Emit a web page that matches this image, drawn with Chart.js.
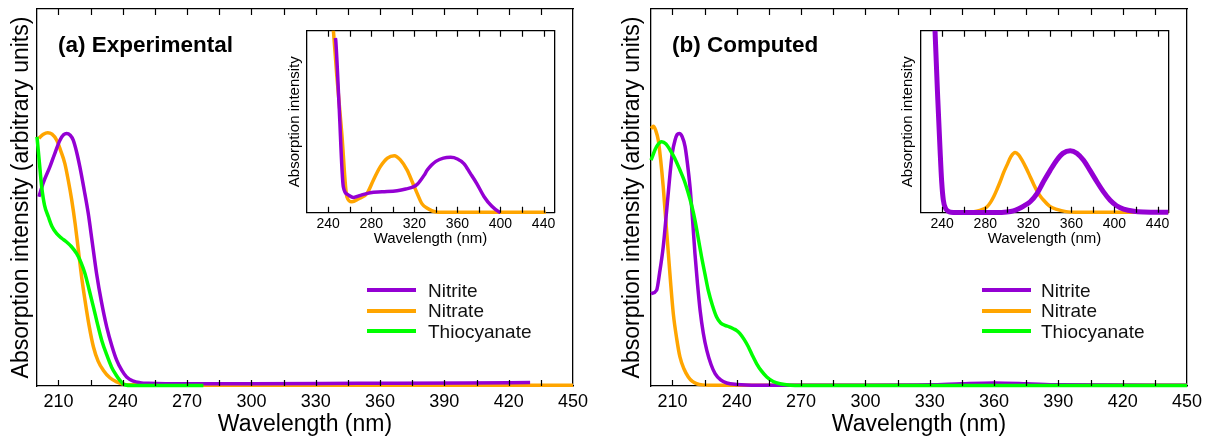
<!DOCTYPE html>
<html>
<head>
<meta charset="utf-8">
<script src="https://cdn.jsdelivr.net/npm/chart.js@4.4.1/dist/chart.umd.min.js"></script>
<style>
  html, body { margin: 0; padding: 0; background: #fff; }
  #wrap { position: relative; width: 1205px; height: 437px; background: #fff; overflow: hidden;
          font-family: 'Liberation Sans', Arial, sans-serif; }
  canvas { position: absolute; }
  .ptitle { position: absolute; font-weight: bold; font-size: 22.5px; line-height: 22.5px; white-space: nowrap; color: #000; }
  .lg { position: absolute; font-size: 19px; line-height: 19px; white-space: nowrap; color: #111; }
  .lgline { position: absolute; height: 4px; width: 49px; }
</style>
</head>
<body>
<div id="wrap">
  <canvas id="mainA" width="600" height="437" style="left:0;top:0"></canvas>
  <canvas id="mainB" width="605" height="437" style="left:600px;top:0"></canvas>
  <canvas id="insetA" width="280" height="230" style="left:280px;top:25px"></canvas>
  <canvas id="insetB" width="280" height="230" style="left:895px;top:25px"></canvas>
  <div class="ptitle" style="left:58px;top:34px">(a) Experimental</div>
  <div class="ptitle" style="left:672px;top:34px">(b) Computed</div>
  <div id="legA"></div>
  <div id="legB"></div>
</div>
<script>
// ---------------- DATA ----------------
const seriesNames = ['Nitrite', 'Nitrate', 'Thiocyanate'];
const seriesColors = ['#9400d3', '#ffa500', '#00ff00'];

// Panel (a) Experimental, main
const expNitriteX = [200.9, 203, 206, 208.5, 210.7, 212.5, 213.8, 215.5, 216.9, 218.5, 220, 222, 223.9, 225.8, 227.8, 230, 232.5, 235, 237.2, 239.5, 241.8, 245, 248, 252, 260, 300, 350, 400, 430];
const expNitriteY = [0.502, 0.54, 0.581, 0.62, 0.652, 0.667, 0.67, 0.665, 0.652, 0.62, 0.581, 0.52, 0.458, 0.38, 0.298, 0.225, 0.157, 0.105, 0.068, 0.042, 0.024, 0.013, 0.009, 0.007, 0.006, 0.006, 0.007, 0.008, 0.009];
const expNitrateX = [200.9, 203, 205, 207, 209.2, 211, 213, 214.6, 216.2, 217.8, 219.3, 220.8, 222.4, 224.3, 226.3, 228.5, 230.9, 234, 237.2, 240, 245, 260, 300, 350, 400, 450];
const expNitrateY = [0.657, 0.668, 0.672, 0.668, 0.652, 0.625, 0.59, 0.545, 0.493, 0.43, 0.36, 0.29, 0.227, 0.16, 0.104, 0.066, 0.042, 0.022, 0.011, 0.005, 0.003, 0.002, 0.002, 0.002, 0.002, 0.002];
const expThioX = [200, 201, 202.2, 203.5, 205.3, 207, 209.2, 211.5, 213.8, 216, 218.5, 220.5, 222.4, 224.3, 226.3, 228.2, 230.2, 232.5, 234.8, 236.8, 238.7, 240.5, 245, 260, 277.6];
const expThioY = [0.661, 0.6, 0.528, 0.48, 0.449, 0.423, 0.404, 0.392, 0.382, 0.37, 0.351, 0.328, 0.298, 0.256, 0.21, 0.165, 0.121, 0.083, 0.05, 0.03, 0.015, 0.004, 0.001, 0.001, 0.001];

// Panel (b) Computed, main
const compNitriteX = [200, 202.6, 204, 205.7, 207.3, 208.9, 210, 211.2, 212.2, 213.2, 214.5, 215.9, 217, 218.2, 219.4, 220.5, 221.7, 222.9, 224.4, 226, 228, 229.9, 232.5, 235.3, 240, 250, 300, 330, 345, 360, 375, 390, 450];
const compNitriteY = [0.245, 0.254, 0.3, 0.369, 0.465, 0.564, 0.62, 0.652, 0.667, 0.67, 0.662, 0.635, 0.59, 0.528, 0.44, 0.351, 0.27, 0.201, 0.14, 0.095, 0.057, 0.033, 0.016, 0.008, 0.004, 0.002, 0.002, 0.003, 0.006, 0.008, 0.006, 0.003, 0.002];
const compNitrateX = [200, 201.1, 202.2, 203.4, 204.5, 205.7, 206.9, 208.1, 209.2, 210.4, 212, 213.5, 215.4, 217.4, 219.3, 221.3, 224, 230, 260, 300, 360, 450];
const compNitrateY = [0.683, 0.689, 0.678, 0.652, 0.6, 0.528, 0.44, 0.351, 0.27, 0.192, 0.125, 0.077, 0.045, 0.024, 0.012, 0.006, 0.003, 0.002, 0.002, 0.002, 0.002, 0.002];
const compThioX = [200, 202.6, 205, 207, 208.9, 211, 213.5, 215.5, 217.4, 219, 220.5, 222, 223.6, 225.2, 226.7, 228.6, 230.6, 232.5, 234.5, 236.5, 238.4, 240, 241.5, 243.5, 245.4, 247.3, 249.3, 251.5, 254, 257, 260.2, 265, 270, 450];
const compThioY = [0.599, 0.635, 0.648, 0.642, 0.626, 0.605, 0.573, 0.545, 0.511, 0.478, 0.44, 0.393, 0.342, 0.296, 0.254, 0.215, 0.183, 0.167, 0.161, 0.157, 0.152, 0.147, 0.139, 0.123, 0.104, 0.081, 0.059, 0.04, 0.024, 0.012, 0.006, 0.002, 0.001, 0.001];

// Inset (a)
const insExpNitriteX = [246.6, 247, 250, 254, 258, 263.5, 270, 279, 290, 304, 312, 319.5, 323, 326, 329, 332, 336, 340, 347, 353.7, 360, 366, 372, 378, 384.8, 392, 398.8, 400];
const insExpNitriteY = [0.96, 0.945, 0.6, 0.143, 0.1, 0.084, 0.095, 0.11, 0.115, 0.121, 0.13, 0.143, 0.158, 0.18, 0.205, 0.234, 0.262, 0.282, 0.3, 0.304, 0.295, 0.27, 0.216, 0.16, 0.088, 0.035, 0.004, 0.002];
const insExpNitrateX = [243, 244.8, 248, 252.6, 257.3, 262, 268, 276, 282, 288.4, 295, 301.4, 307, 313.3, 318, 322.6, 327, 332, 340, 350, 400, 442];
const insExpNitrateY = [1.12, 1.0, 0.75, 0.436, 0.088, 0.06, 0.075, 0.106, 0.18, 0.253, 0.3, 0.313, 0.29, 0.234, 0.17, 0.106, 0.05, 0.024, 0.004, 0.002, 0.002, 0.002];

// Inset (b)
const insCompNitriteX = [232.5, 233.3, 235.9, 238, 239.5, 241, 243, 245.5, 248, 260, 290, 300, 306, 311, 316, 321.7, 328, 334, 340, 346.5, 352, 358.9, 365, 371.3, 377, 383.7, 390, 396, 402, 408.5, 418, 427, 450];
const insCompNitriteY = [1.15, 1.0, 0.62, 0.344, 0.17, 0.07, 0.025, 0.008, 0.003, 0.001, 0.001, 0.004, 0.01, 0.022, 0.038, 0.06, 0.105, 0.17, 0.23, 0.29, 0.326, 0.341, 0.327, 0.288, 0.235, 0.17, 0.113, 0.068, 0.038, 0.02, 0.008, 0.004, 0.002];
const insCompNitrateX = [262.8, 272, 278, 281.4, 285, 288, 291, 293.8, 297, 300, 304, 307.7, 311, 314, 318, 321.7, 325, 328, 331, 334, 340, 346.5, 355, 364, 450];
const insCompNitrateY = [0.002, 0.008, 0.02, 0.031, 0.058, 0.09, 0.13, 0.17, 0.22, 0.26, 0.31, 0.331, 0.318, 0.29, 0.245, 0.198, 0.155, 0.12, 0.092, 0.07, 0.035, 0.018, 0.006, 0.003, 0.002];

// Axis ranges / ticks
const mainXRange = [200, 450];
const mainXStep = 15;
const mainXLabelEvery = 30;
const insetXRange = [220, 450];
const insetXStep = 20;
const insetXLabelEvery = 40;

// ---------------- BUILD ----------------
Chart.defaults.font.family = "'Liberation Sans', Arial, Helvetica, sans-serif";
Chart.defaults.color = '#000';

const pts = (xs, ys) => xs.map((x, i) => ({x: x, y: ys[i]}));

function ds(label, xs, ys, color, width) {
  return {
    label, data: pts(xs, ys), borderColor: color, backgroundColor: color,
    borderWidth: width, pointRadius: 0, showLine: true, fill: false,
    cubicInterpolationMode: 'monotone', clip: {left: 3, right: 3, top: 0, bottom: 3}
  };
}

// x-axis tick marks pointing inward (top and bottom), placed from the x scale's own ticks
const inwardTicks = {
  id: 'inwardTicks',
  afterDraw(chart, args, opts) {
    const ctx = chart.ctx, ca = chart.chartArea, sx = chart.scales.x;
    const len = (opts && opts.len) || 6;
    ctx.save();
    ctx.strokeStyle = '#000';
    ctx.lineWidth = 1.2;
    ctx.beginPath();
    sx.ticks.forEach(t => {
      const px = Math.round(sx.getPixelForValue(t.value)) + 0.5;
      if (px <= ca.left + 1 || px >= ca.right - 1) return;
      ctx.moveTo(px, ca.bottom);
      ctx.lineTo(px, ca.bottom - len);
      ctx.moveTo(px, ca.top);
      ctx.lineTo(px, ca.top + len);
    });
    ctx.stroke();
    ctx.restore();
  }
};

function makeChart(id, datasets, cfg) {
  const tickLabel = (every) => (v) => (Math.abs(v % every) < 1e-6 ? String(v) : '');
  return new Chart(document.getElementById(id), {
    type: 'scatter',
    data: { datasets },
    plugins: [inwardTicks],
    options: {
      responsive: false, animation: false,
      layout: { padding: { left: 0, right: cfg.padRight, top: cfg.padTop, bottom: 0 } },
      plugins: { legend: { display: false }, tooltip: { enabled: false }, inwardTicks: { len: cfg.tickLen } },
      scales: {
        x: {
          type: 'linear', position: 'bottom', min: cfg.xr[0], max: cfg.xr[1],
          ticks: { stepSize: cfg.step, includeBounds: false, autoSkip: false, maxRotation: 0, minRotation: 0,
                   callback: tickLabel(cfg.every), font: { size: cfg.tickFont }, padding: cfg.tickPad, color: '#000' },
          grid: { drawOnChartArea: false, drawTicks: false },
          border: { display: true, color: '#000', width: cfg.bw },
          title: { display: true, text: 'Wavelength (nm)', color: '#000',
                   font: { size: cfg.xTitleFont, lineHeight: 1 }, padding: { top: 0, bottom: cfg.xTitlePad } },
          afterFit: (s) => { s.height = cfg.xH; s.paddingLeft = 0; s.paddingRight = 0; }
        },
        x2: {
          type: 'linear', position: 'top', min: cfg.xr[0], max: cfg.xr[1],
          ticks: { display: false },
          grid: { drawOnChartArea: false, drawTicks: false },
          border: { display: true, color: '#000', width: cfg.bw },
          afterFit: (s) => { s.height = 0; s.paddingLeft = 0; s.paddingRight = 0; }
        },
        y: {
          type: 'linear', position: 'left', min: 0, max: 1,
          ticks: { display: false },
          grid: { drawOnChartArea: false, drawTicks: false },
          border: { display: true, color: '#000', width: cfg.bw },
          title: { display: true, text: cfg.yTitle, color: '#000',
                   font: { size: cfg.yTitleFont, lineHeight: 1 }, padding: { top: cfg.yTitlePad, bottom: 0 } },
          afterFit: (s) => { s.width = cfg.yW; }
        },
        y2: {
          type: 'linear', position: 'right', min: 0, max: 1,
          ticks: { display: false },
          grid: { drawOnChartArea: false, drawTicks: false },
          border: { display: true, color: '#000', width: cfg.bw },
          afterFit: (s) => { s.width = 0; }
        }
      }
    }
  });
}

const mainCommon = { xr: mainXRange, step: mainXStep, every: mainXLabelEvery, tickFont: 18, tickPad: 5, tickLen: 6,
  bw: 1.3, xTitleFont: 23, xTitlePad: 0.5, xH: 51, yTitle: 'Absorption intensity (arbitrary units)', yTitleFont: 23, padTop: 9 };
const insetCommon = { xr: insetXRange, step: insetXStep, every: insetXLabelEvery, tickFont: 14, tickPad: 3, tickLen: 6,
  bw: 1.3, xTitleFont: 15, xTitlePad: 9, xH: 42.3, yTitle: 'Absorption intensity', yTitleFont: 15, padTop: 5.7 };

makeChart('mainA', [
  ds('Thiocyanate', expThioX, expThioY, seriesColors[2], 3.5),
  ds('Nitrite', expNitriteX, expNitriteY, seriesColors[0], 3.5),
  ds('Nitrate', expNitrateX, expNitrateY, seriesColors[1], 3.5)
], Object.assign({}, mainCommon, { padRight: 27, yW: 37, yTitlePad: 10 }));

makeChart('mainB', [
  ds('Thiocyanate', compThioX, compThioY, seriesColors[2], 3.5),
  ds('Nitrite', compNitriteX, compNitriteY, seriesColors[0], 3.5),
  ds('Nitrate', compNitrateX, compNitrateY, seriesColors[1], 3.5)
], Object.assign({}, mainCommon, { padRight: 18, yW: 51, yTitlePad: 21.5 }));

makeChart('insetA', [
  ds('Nitrite', insExpNitriteX, insExpNitriteY, seriesColors[0], 3.5),
  ds('Nitrate', insExpNitrateX, insExpNitrateY, seriesColors[1], 3.5)
], Object.assign({}, insetCommon, { padRight: 5.7, yW: 26.7, yTitlePad: 7.5 }));

makeChart('insetB', [
  ds('Nitrite', insCompNitriteX, insCompNitriteY, seriesColors[0], 5),
  ds('Nitrate', insCompNitrateX, insCompNitrateY, seriesColors[1], 3.5)
], Object.assign({}, insetCommon, { padRight: 6.7, yW: 25.7, yTitlePad: 5.8 }));

// HTML legends
function legend(holderId, lineLeft, textLeft) {
  const holder = document.getElementById(holderId);
  const rowCenters = [290, 310.5, 331];
  seriesNames.forEach((name, i) => {
    const ln = document.createElement('div');
    ln.className = 'lgline';
    ln.style.left = lineLeft + 'px';
    ln.style.top = (rowCenters[i] - 2) + 'px';
    ln.style.background = seriesColors[i];
    holder.appendChild(ln);
    const tx = document.createElement('div');
    tx.className = 'lg';
    tx.style.left = textLeft + 'px';
    tx.style.top = (rowCenters[i] - 9.3) + 'px';
    tx.textContent = name;
    holder.appendChild(tx);
  });
}
legend('legA', 367, 428);
legend('legB', 982, 1041);
</script>
</body>
</html>
